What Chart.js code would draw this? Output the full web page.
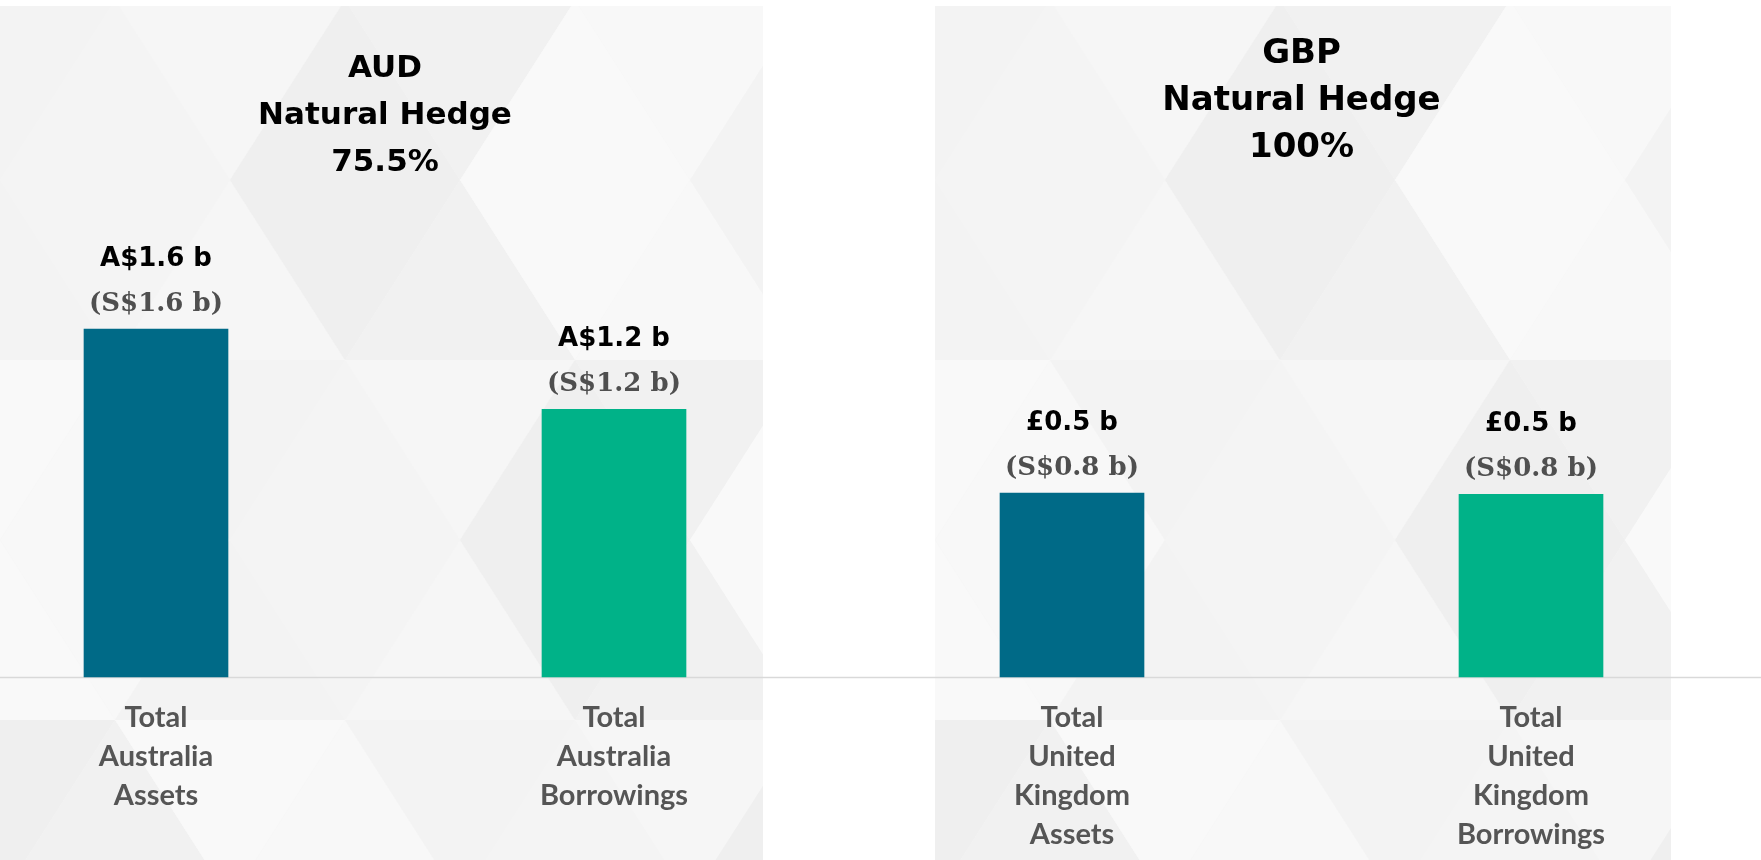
<!DOCTYPE html>
<html>
<head>
<meta charset="utf-8">
<title>Natural Hedge</title>
<script src="https://cdn.jsdelivr.net/npm/chart.js@4"></script>
<style>
  html, body { margin: 0; padding: 0; background: #ffffff; }
  .wrap { position: relative; width: 1761px; height: 860px; overflow: hidden; }
  #audChart { position: absolute; left: 0; top: 0; }
  #gbpChart { position: absolute; left: 849px; top: 0; }
</style>
</head>
<body>
<div class="wrap">
  <canvas id="audChart" width="849" height="860"></canvas>
  <canvas id="gbpChart" width="912" height="860"></canvas>
</div>
<script>
// data (bar heights are in S$ billions)
var audTitle = ['AUD', 'Natural Hedge', '75.5%'];
var audCategories = [['Total', 'Australia', 'Assets'], ['Total', 'Australia', 'Borrowings']];
var audValues = [1.6, 1.23];
var audLocalText = ['A$1.6 b', 'A$1.2 b'];
var audSgdText = ['(S$1.6 b)', '(S$1.2 b)'];

var gbpTitle = ['GBP', 'Natural Hedge', '100%'];
var gbpCategories = [['Total', 'United', 'Kingdom', 'Assets'], ['Total', 'United', 'Kingdom', 'Borrowings']];
var gbpValues = [0.845, 0.84];
var gbpLocalText = ['£0.5 b', '£0.5 b'];
var gbpSgdText = ['(S$0.8 b)', '(S$0.8 b)'];

var barColors = ['#006a87', '#00b288'];
var yMax = 1.963;

// light grey panel with a soft triangle pattern behind the chart
function panelBackground(panelLeft, panelRight) {
  return {
    id: 'panelBg',
    beforeDraw: function (chart) {
      var ctx = chart.ctx;
      var top = 6, bottom = chart.height;
      ctx.save();
      ctx.beginPath();
      ctx.rect(panelLeft, top, panelRight - panelLeft, bottom - top);
      ctx.clip();
      ctx.fillStyle = '#f5f5f5';
      ctx.fillRect(panelLeft, top, panelRight - panelLeft, bottom - top);
      var shades = ['#f1f1f1', '#f8f8f8', '#f4f4f4', '#efefef', '#f9f9f9', '#f3f3f3', '#f6f6f6'];
      var rowH = 180, triW = 230, k = 0;
      for (var r = 0; r < 6; r++) {
        var y0 = r * rowH;
        var shift = (r % 2) * triW / 2;
        for (var c = -2; c < 8; c++) {
          var x0 = panelLeft + c * triW - shift;
          ctx.fillStyle = shades[(k++) % shades.length];
          ctx.beginPath();
          ctx.moveTo(x0, y0 + rowH);
          ctx.lineTo(x0 + triW / 2, y0);
          ctx.lineTo(x0 + triW, y0 + rowH);
          ctx.closePath();
          ctx.fill();
          ctx.fillStyle = shades[(k + 3) % shades.length];
          ctx.beginPath();
          ctx.moveTo(x0 + triW / 2, y0);
          ctx.lineTo(x0 + triW * 1.5, y0);
          ctx.lineTo(x0 + triW, y0 + rowH);
          ctx.closePath();
          ctx.fill();
        }
      }
      ctx.restore();
    }
  };
}

// baseline running across the whole canvas
var baseLine = {
  id: 'baseLine',
  beforeDatasetsDraw: function (chart) {
    var ctx = chart.ctx;
    var y = Math.round(chart.scales.y.getPixelForValue(0)) + 0.5;
    ctx.save();
    ctx.strokeStyle = '#d9d9d9';
    ctx.lineWidth = 1.5;
    ctx.beginPath();
    ctx.moveTo(0, y);
    ctx.lineTo(chart.width, y);
    ctx.stroke();
    ctx.restore();
  }
};

// two line label above each bar
function valueLabels(localText, sgdText) {
  return {
    id: 'valueLabels',
    afterDatasetsDraw: function (chart) {
      var ctx = chart.ctx;
      var bars = chart.getDatasetMeta(0).data;
      ctx.save();
      ctx.textAlign = 'center';
      ctx.textBaseline = 'alphabetic';
      bars.forEach(function (bar, i) {
        ctx.fillStyle = '#000000';
        ctx.font = 'bold 26px "DejaVu Sans"';
        ctx.fillText(localText[i], bar.x, bar.y - 63);
        ctx.fillStyle = '#4f4f4f';
        ctx.font = 'bold 26px "DejaVu Serif"';
        ctx.fillText(sgdText[i], bar.x, bar.y - 18);
      });
      ctx.restore();
    }
  };
}

function makeChart(id, title, titleSize, categories, values, localText, sgdText, pad, titlePad, panel) {
  var ctx = document.getElementById(id);
  return new Chart(ctx, {
    type: 'bar',
    data: {
      labels: categories,
      datasets: [{
        data: values,
        backgroundColor: barColors,
        barThickness: 144,
        clip: false
      }]
    },
    options: {
      responsive: false,
      animation: false,
      devicePixelRatio: 1,
      layout: { padding: { left: pad.left, right: pad.right, top: 0, bottom: 0 } },
      plugins: {
        legend: { display: false },
        tooltip: { enabled: false },
        title: {
          display: true,
          text: title,
          color: '#000000',
          font: { family: '"DejaVu Sans"', size: titleSize, weight: 'bold', lineHeight: 47 / titleSize },
          padding: titlePad
        }
      },
      scales: {
        x: {
          type: 'category',
          offset: false,
          grid: { display: false, drawTicks: false },
          border: { display: false },
          afterFit: function (scale) { scale.height = 183; },
          ticks: {
            padding: 21,
            color: '#555555',
            maxRotation: 0,
            autoSkip: false,
            font: { family: 'Lato', size: 29, weight: 'bold', lineHeight: 1.345 }
          }
        },
        y: {
          display: false,
          min: 0,
          max: yMax
        }
      }
    },
    plugins: [panelBackground(panel[0], panel[1]), baseLine, valueLabels(localText, sgdText)]
  });
}

makeChart('audChart', audTitle, 31, audCategories, audValues, audLocalText, audSgdText,
  { left: 156, right: 235 }, { top: 45, bottom: 64 }, [0, 763]);
makeChart('gbpChart', gbpTitle, 34, gbpCategories, gbpValues, gbpLocalText, gbpSgdText,
  { left: 223, right: 230 }, { top: 31, bottom: 78 }, [86, 822]);
</script>
</body>
</html>
